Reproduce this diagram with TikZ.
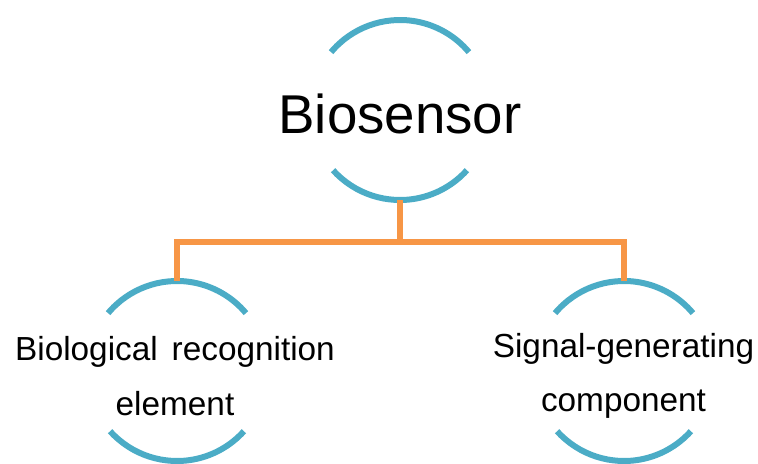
\documentclass[tikz,border=0pt]{standalone}
\usepackage{fontspec}
\setmainfont{Liberation Sans}
\definecolor{arcblue}{HTML}{4BACC6}
\definecolor{linkorange}{HTML}{F79646}
\begin{document}
\begin{tikzpicture}[x=0.75pt,y=-0.75pt,
  ring/.style={circle,draw=none,minimum size=135pt,inner sep=0pt,outer sep=0pt},
  arcline/.style={draw=arcblue,line width=4.5pt},
  link/.style={draw=linkorange,line width=4.5pt,line join=miter},
  bigtext/.style={font=\fontsize{41}{49}\selectfont,text=black},
  label/.style={font=\fontsize{25}{41}\selectfont,align=center,text=black}]
\useasboundingbox (0,0) rectangle (758,464);
% rings (invisible circles used for arcs and connectors)
\node[ring] (top) at (400,110) {};
\node[ring] (left) at (177,371) {};
\node[ring] (right) at (624,371) {};
% arcs
\foreach \n in {top,left,right}{
  \draw[arcline] (\n.140) arc[start angle=140,end angle=40,radius=67.5pt];
  \draw[arcline] (\n.222) arc[start angle=222,end angle=318,radius=67.5pt];
}
% texts
\node[bigtext] (tt) at (400,114) {Biosensor};
\node[label] (lt) at (175,376) {Biological\hspace{0.42em}recognition\\element};
\node[label] (rt) at (623.5,376) {Signal-generating\\component};
% connectors
\coordinate (bus) at (400,242);
\draw[link] (top.south) -- (bus) -| (left.north);
\draw[link] (bus) -| (right.north);
\end{tikzpicture}
\end{document}
